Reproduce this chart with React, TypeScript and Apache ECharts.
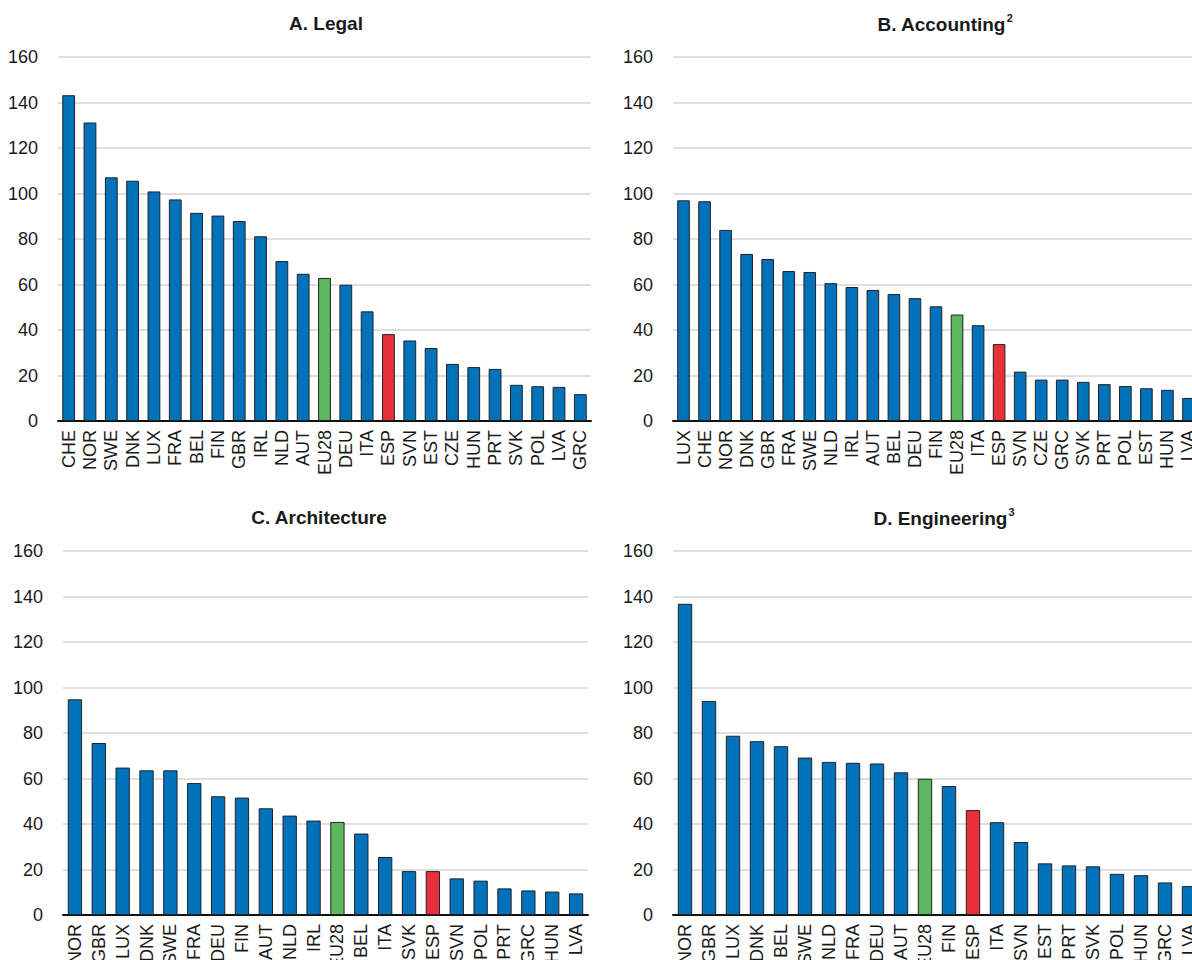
import React, { useEffect, useRef } from "react";
import * as echarts from "echarts";

const legalCats = ["CHE","NOR","SWE","DNK","LUX","FRA","BEL","FIN","GBR","IRL","NLD","AUT","EU28","DEU","ITA","ESP","SVN","EST","CZE","HUN","PRT","SVK","POL","LVA","GRC"];
const legalVals = [143.2,131.2,107.1,105.6,100.9,97.4,91.5,90.3,87.9,81.2,70.3,64.7,62.9,59.9,48.2,38.2,35.4,32.1,25.1,23.7,22.9,15.9,15.3,15.0,11.8];

const accCats = ["LUX","CHE","NOR","DNK","GBR","FRA","SWE","NLD","IRL","AUT","BEL","DEU","FIN","EU28","ITA","ESP","SVN","CZE","GRC","SVK","PRT","POL","EST","HUN","LVA"];
const accVals = [97.0,96.6,84.0,73.4,71.2,65.9,65.5,60.6,58.9,57.6,55.8,54.0,50.4,46.8,42.1,33.8,21.7,18.2,18.2,17.2,16.2,15.4,14.4,13.7,10.1];

const archCats = ["NOR","GBR","LUX","DNK","SWE","FRA","DEU","FIN","AUT","NLD","IRL","EU28","BEL","ITA","SVK","ESP","SVN","POL","PRT","GRC","HUN","LVA"];
const archVals = [94.8,75.6,64.8,63.6,63.6,58.0,52.2,51.6,46.9,43.7,41.5,40.9,35.8,25.5,19.3,19.3,16.1,15.1,11.7,10.8,10.3,9.5];

const engCats = ["NOR","GBR","LUX","DNK","BEL","SWE","NLD","FRA","DEU","AUT","EU28","FIN","ESP","ITA","SVN","EST","PRT","SVK","POL","HUN","GRC","LVA"];
const engVals = [136.8,94.1,78.8,76.4,74.2,69.2,67.3,66.9,66.6,62.7,59.9,56.7,46.1,40.8,32.1,22.7,21.8,21.4,18.1,17.5,14.3,12.7];

const yTicksMax = 160;
const yTickStep = 20;

const BLUE = "#0072bb";
const GREEN = "#5bb85d";
const RED = "#e8303a";
const SANS = "'Liberation Sans', Arial, Helvetica, sans-serif";

const panels = [
  { title: "{b|A. Legal}", cats: legalCats, vals: legalVals, grid: { left: 58, top: 57, width: 533, height: 364 }, tx: 321, ty: 6 },
  { title: "{b|B. Accounting}{s|2}", cats: accCats, vals: accVals, grid: { left: 673, top: 57, width: 526, height: 364 }, tx: 940, ty: 7 },
  { title: "{b|C. Architecture}", cats: archCats, vals: archVals, grid: { left: 63, top: 551, width: 525, height: 364 }, tx: 314, ty: 500 },
  { title: "{b|D. Engineering}{s|3}", cats: engCats, vals: engVals, grid: { left: 673, top: 551, width: 528, height: 364 }, tx: 939, ty: 501 },
];

function colorFor(c: string) {
  if (c === "EU28") return GREEN;
  if (c === "ESP") return RED;
  return BLUE;
}

export default function App() {
  const ref = useRef<HTMLDivElement>(null);
  useEffect(() => {
    const chart = echarts.init(ref.current!, undefined, { renderer: "svg" });
    const option: any = {
      animation: false,
      backgroundColor: "#ffffff",
      title: panels.map((p) => ({
        text: p.title,
        left: p.tx,
        top: p.ty,
        textAlign: "center",
        textStyle: {
          rich: {
            b: { fontFamily: SANS, fontWeight: "bold", fontSize: 19, color: "#1a1a1a", lineHeight: 24 },
            s: { fontFamily: SANS, fontSize: 11, color: "#1a1a1a", verticalAlign: "top", lineHeight: 24, padding: [0, 0, 8, 1] },
          },
        },
      })),
      grid: panels.map((p) => ({ ...p.grid, containLabel: false, outerBoundsMode: "none" })),
      xAxis: panels.map((p, i) => ({
        type: "category",
        gridIndex: i,
        data: p.cats,
        axisLine: { show: true, lineStyle: { color: "#111", width: 2 } },
        axisTick: { show: false },
        axisLabel: { interval: 0, rotate: 90, fontFamily: SANS, fontSize: 18, color: "#1a1a1a", margin: 9 },
        splitLine: { show: false },
      })),
      yAxis: panels.map((p, i) => ({
        type: "value",
        gridIndex: i,
        min: 0,
        max: yTicksMax,
        interval: yTickStep,
        axisLine: { show: false },
        axisTick: { show: false },
        axisLabel: { fontFamily: SANS, fontSize: 18, color: "#1a1a1a", margin: 20 },
        splitLine: { show: true, lineStyle: { color: "#d4d4d4", width: 1.5 } },
      })),
      series: panels.map((p, i) => ({
        type: "bar",
        xAxisIndex: i,
        yAxisIndex: i,
        barCategoryGap: "40%",
        data: p.vals.map((v, j) => ({ value: v, itemStyle: { color: colorFor(p.cats[j]) } })),
        itemStyle: { borderColor: "#222", borderWidth: 1 },
      })),
    };
    chart.setOption(option);
    return () => chart.dispose();
  }, []);
  return (
    <div
      ref={ref}
      style={{ position: "fixed", left: 0, top: 0, width: 1192, height: 960, background: "#fff", overflow: "hidden" }}
    />
  );
}
